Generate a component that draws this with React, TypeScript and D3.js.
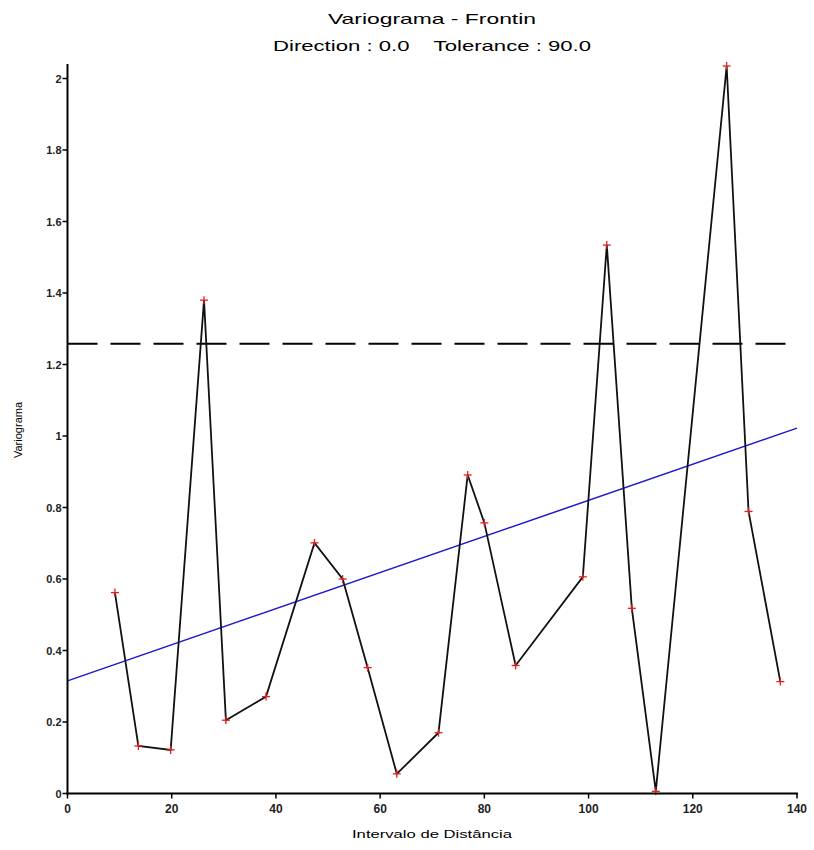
import * as d3 from "d3";

// lag distances and semivariance
const lags = [9.1, 13.6, 19.8, 26.2, 30.4, 38.1, 47.4, 52.8, 57.6, 63.2, 71.2, 76.8, 80.0, 86.0, 98.9, 103.5, 108.3, 112.9, 126.5, 130.7, 136.8];
const gammas = [0.562, 0.133, 0.122, 1.38, 0.205, 0.271, 0.701, 0.6, 0.352, 0.055, 0.17, 0.891, 0.757, 0.358, 0.606, 1.534, 0.518, 0.006, 2.035, 0.789, 0.313];

const xTicks = [0, 20, 40, 60, 80, 100, 120, 140];
const yTicks = [0, 0.2, 0.4, 0.6, 0.8, 1, 1.2, 1.4, 1.6, 1.8, 2];
const yTickLabels = ["0", "0.2", "0.4", "0.6", "0.8", "1", "1.2", "1.4", "1.6", "1.8", "2"];

const sill = 1.258;
const trendStart = 0.315;
const trendEnd = 1.022;

const title = "Variograma - Frontin";
const subtitle = "Direction : 0.0    Tolerance : 90.0";
const xLabel = "Intervalo de Distância";
const yLabel = "Variograma";

const width = 814;
const height = 850;
const left = 67.5;
const right = 797;
const bottom = 793.5;
const top = 78.5;

export default function App() {
  const x = d3.scaleLinear().domain([0, 140]).range([left, right]);
  const y = d3.scaleLinear().domain([0, 2]).range([bottom, top]);

  const points = lags.map((l, i) => ({ l, g: gammas[i] }));
  const line = d3
    .line<{ l: number; g: number }>()
    .x((d) => x(d.l))
    .y((d) => y(d.g));

  const font = "Arial, 'Liberation Sans', sans-serif";

  return (
    <svg
      width={width}
      height={height}
      style={{ position: "absolute", left: 0, top: 0, background: "#fff" }}
      fontFamily={font}
    >
      {/* titles */}
      <text x={432} y={24} textAnchor="middle" fontSize={15} textLength={208} lengthAdjust="spacingAndGlyphs">
        {title}
      </text>
      <text x={432} y={51} textAnchor="middle" fontSize={15} textLength={318} lengthAdjust="spacingAndGlyphs" xmlSpace="preserve">
        {subtitle}
      </text>

      {/* sill */}
      <line x1={x(0)} x2={x(140)} y1={y(sill)} y2={y(sill)} stroke="#000" strokeWidth={2} strokeDasharray="30,13" />

      {/* trend */}
      <line x1={x(0)} x2={x(140)} y1={y(trendStart)} y2={y(trendEnd)} stroke="#1a1acc" strokeWidth={1.5} />

      {/* experimental variogram */}
      <path d={line(points) ?? ""} fill="none" stroke="#111" strokeWidth={1.8} />
      {points.map((d, i) => (
        <g key={i} stroke="#e02020" strokeWidth={1.3}>
          <line x1={x(d.l) - 4} x2={x(d.l) + 4} y1={y(d.g)} y2={y(d.g)} />
          <line x1={x(d.l)} x2={x(d.l)} y1={y(d.g) - 4} y2={y(d.g) + 4} />
        </g>
      ))}

      {/* axes */}
      <line x1={x(0)} x2={x(0)} y1={y(0) + 1} y2={y(2.035) - 2} stroke="#000" strokeWidth={2} />
      <line x1={x(0) - 1} x2={x(140) + 1} y1={y(0)} y2={y(0)} stroke="#000" strokeWidth={2} />

      {yTicks.map((t, i) => (
        <g key={t}>
          <line x1={x(0) - 5} x2={x(0)} y1={y(t)} y2={y(t)} stroke="#000" strokeWidth={1.5} />
          <text x={x(0) - 6} y={y(t) + 4} textAnchor="end" fontSize={11} fontWeight="bold" fill="#222">
            {yTickLabels[i]}
          </text>
        </g>
      ))}
      {xTicks.map((t) => (
        <g key={t}>
          <line x1={x(t)} x2={x(t)} y1={y(0)} y2={y(0) + 5} stroke="#000" strokeWidth={1.5} />
          <text x={x(t)} y={y(0) + 19} textAnchor="middle" fontSize={12} fontWeight="bold" fill="#222">
            {t}
          </text>
        </g>
      ))}

      <text x={432} y={838} textAnchor="middle" fontSize={11} textLength={160} lengthAdjust="spacingAndGlyphs">
        {xLabel}
      </text>
      <text
        transform={`translate(22, 430) rotate(-90)`}
        textAnchor="middle"
        fontSize={11}
      >
        {yLabel}
      </text>
    </svg>
  );
}
